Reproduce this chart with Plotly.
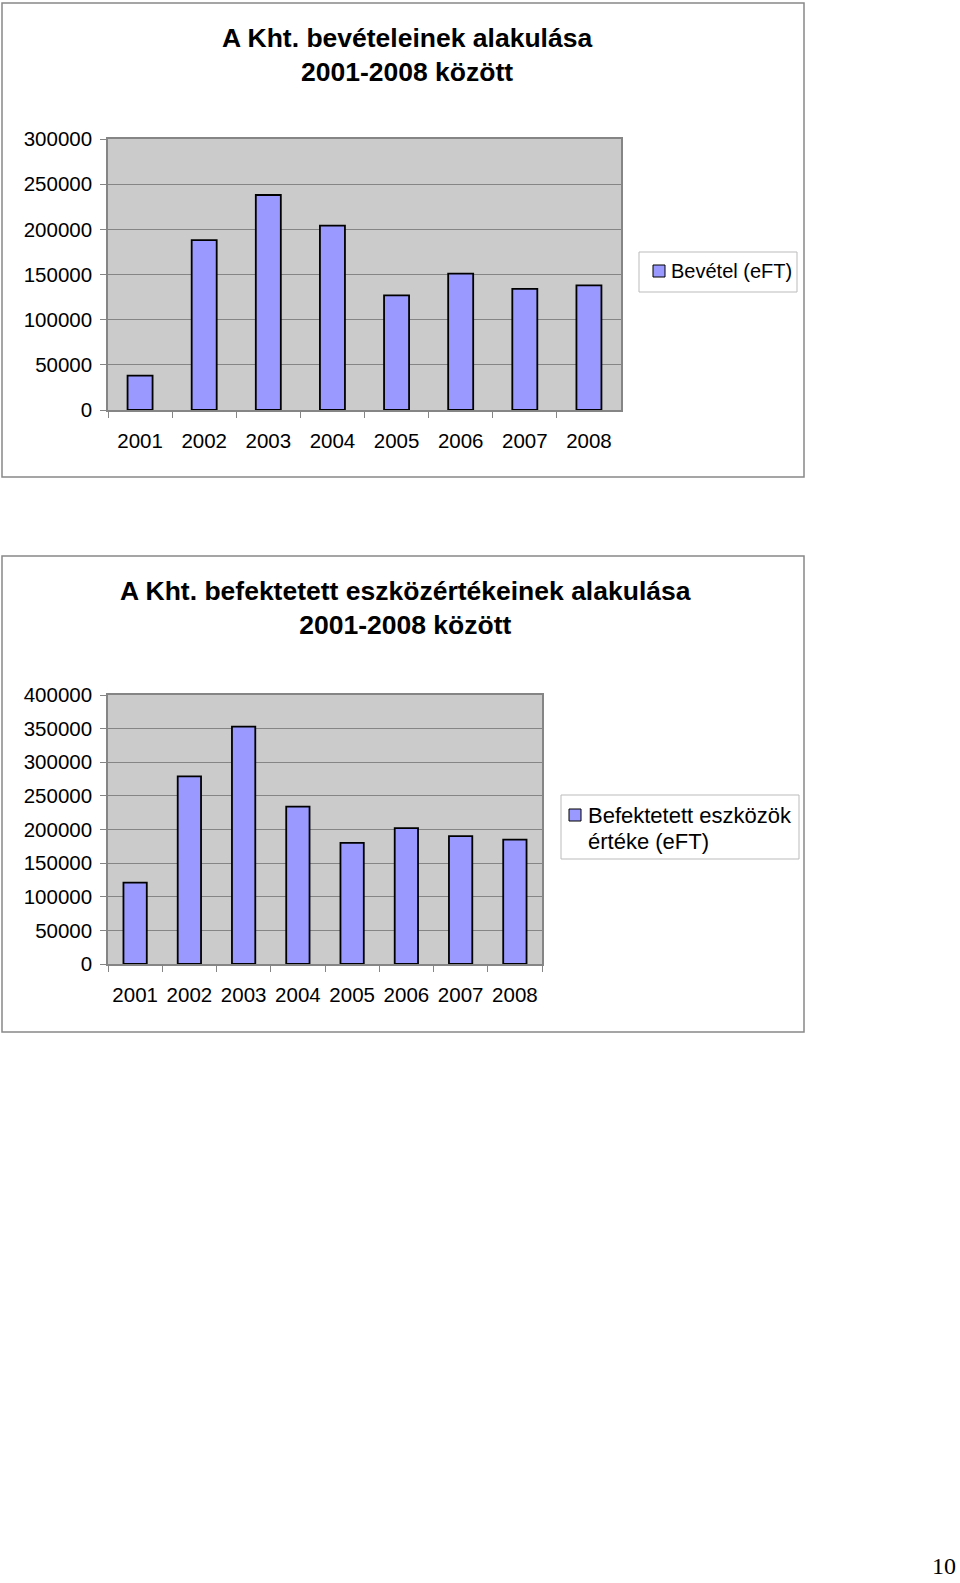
import plotly.graph_objects as go

W, H = 960, 1583

years = ["2001", "2002", "2003", "2004", "2005", "2006", "2007", "2008"]
bevetel = [38000, 188000, 238000, 204000, 127000, 151000, 134000, 138000]
befektetett = [121000, 279000, 353000, 234000, 180000, 202000, 190000, 185000]

title1 = "A Kht. bevételeinek alakulása<br>2001-2008 között"
title2 = "A Kht. befektetett eszközértékeinek alakulása<br>2001-2008 között"
name1 = "Bevétel (eFT)"
name2_lines = ["Befektetett eszközök", "értéke (eFT)"]


def px(x):
    return x / W


def py(y):
    return 1 - y / H


FONT = "Liberation Sans, Arial, sans-serif"
BAR_FILL = "#9999FF"
GRID = "#858585"
PLOT_BG = "#CBCBCB"

fig = go.Figure()
fig.add_trace(go.Bar(
    x=years, y=bevetel, name=name1, width=0.39, showlegend=False,
    marker=dict(color=BAR_FILL, line=dict(color="black", width=1.8)),
    xaxis="x", yaxis="y",
))
fig.add_trace(go.Bar(
    x=years, y=befektetett, name=" ".join(name2_lines), width=0.43,
    showlegend=False,
    marker=dict(color=BAR_FILL, line=dict(color="black", width=1.8)),
    xaxis="x2", yaxis="y2",
))

common_x = dict(
    type="category", showgrid=False, showline=True, mirror=True,
    linecolor=GRID, linewidth=1.5, ticks="outside", ticklen=6,
    tickcolor=GRID, tickson="boundaries", ticklabelstandoff=12,
    tickangle=0,
    tickfont=dict(family=FONT, size=20.5, color="black"), fixedrange=True,
)
common_y = dict(
    showgrid=True, gridcolor=GRID, gridwidth=1, showline=True, mirror=True,
    linecolor=GRID, linewidth=1.5, ticks="outside", ticklen=6,
    tickcolor=GRID, tickformat="d", dtick=50000, ticklabelstandoff=4,
    tickfont=dict(family=FONT, size=20.5, color="black"), zeroline=False,
    fixedrange=True,
)

shapes = [
    # chart frames
    dict(type="rect", xref="paper", yref="paper", x0=px(2), x1=px(804),
         y0=py(3), y1=py(477), line=dict(color="#888888", width=1.5)),
    dict(type="rect", xref="paper", yref="paper", x0=px(2), x1=px(804),
         y0=py(556), y1=py(1032), line=dict(color="#888888", width=1.5)),
    # legend 1 box + swatch
    dict(type="rect", xref="paper", yref="paper", x0=px(639), x1=px(797),
         y0=py(292), y1=py(252), line=dict(color="#BBBBBB", width=1),
         fillcolor="white"),
    dict(type="rect", xref="paper", yref="paper", x0=px(653), x1=px(665),
         y0=py(277), y1=py(265), line=dict(color="black", width=1),
         fillcolor=BAR_FILL),
    # legend 2 box + swatch
    dict(type="rect", xref="paper", yref="paper", x0=px(561), x1=px(799),
         y0=py(859), y1=py(795), line=dict(color="#BBBBBB", width=1),
         fillcolor="white"),
    dict(type="rect", xref="paper", yref="paper", x0=px(569), x1=px(581),
         y0=py(821), y1=py(809), line=dict(color="black", width=1),
         fillcolor=BAR_FILL),
]

annotations = [
    dict(text="<b>" + title1 + "</b>", xref="paper", yref="paper",
         x=px(407), y=py(55), xanchor="center", yanchor="middle",
         showarrow=False, font=dict(family=FONT, size=26.5, color="black")),
    dict(text="<b>" + title2 + "</b>", xref="paper", yref="paper",
         x=px(405), y=py(608), xanchor="center", yanchor="middle",
         showarrow=False, font=dict(family=FONT, size=26.5, color="black")),
    dict(text=name1, xref="paper", yref="paper", x=px(669), y=py(271),
         xanchor="left", yanchor="middle", showarrow=False,
         font=dict(family=FONT, size=20, color="black")),
    dict(text=name2_lines[0], xref="paper", yref="paper", x=px(586),
         y=py(815), xanchor="left", yanchor="middle", showarrow=False,
         font=dict(family=FONT, size=22, color="black")),
    dict(text=name2_lines[1], xref="paper", yref="paper", x=px(586),
         y=py(841), xanchor="left", yanchor="middle", showarrow=False,
         font=dict(family=FONT, size=22, color="black")),
    dict(text="10", xref="paper", yref="paper", x=px(944), y=py(1566),
         xanchor="center", yanchor="middle", showarrow=False,
         font=dict(family="Liberation Serif, Times New Roman, serif",
                   size=24, color="black")),
]

fig.update_layout(
    width=W, height=H,
    margin=dict(l=0, r=0, t=0, b=0, pad=0, autoexpand=False),
    paper_bgcolor="white", plot_bgcolor=PLOT_BG,
    xaxis=dict(domain=[px(108), px(621)], anchor="y", **common_x),
    yaxis=dict(domain=[py(410), py(139)], anchor="x", range=[0, 300000],
               **common_y),
    xaxis2=dict(domain=[px(108), px(542)], anchor="y2", **common_x),
    yaxis2=dict(domain=[py(964), py(695)], anchor="x2", range=[0, 400000],
                **common_y),
    showlegend=False,
    shapes=shapes,
    annotations=annotations,
)

fig.write_html("out.html")
